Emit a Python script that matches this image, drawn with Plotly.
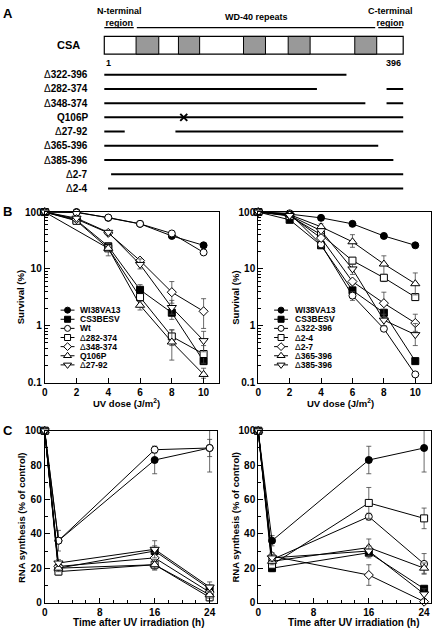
import plotly.graph_objects as go

W, H = 432, 635
FONT = "Liberation Sans"

# ---------------- Panel A data ----------------
csa_length = 396
wd40_repeats = [(43, 73), (99, 127), (185, 214), (244, 273), (332, 361)]
region_names = ["N-terminal<br>region", "WD-40 repeats", "C-terminal<br>region"]
region_spans = [(1, 40), (44, 359), (363, 395)]
construct_names = ["Δ322-396", "Δ282-374", "Δ348-374", "Q106P", "Δ27-92",
                   "Δ365-396", "Δ385-396", "Δ2-7", "Δ2-4"]
construct_segments = [
    [(1, 321)],
    [(1, 282), (374, 396)],
    [(1, 346), (374, 396)],
    [(1, 396)],
    [(1, 28), (95, 396)],
    [(1, 363)],
    [(1, 383)],
    [(10, 396)],
    [(6, 396)],
]
mutation_construct = "Q106P"
mutation_residue = 106

# ---------------- Panel B data (survival %) ----------------
uv_dose = [0, 2, 4, 6, 8, 10]
surv_left_names = ["WI38VA13", "CS3BESV", "Wt", "Δ282-374", "Δ348-374", "Q106P", "Δ27-92"]
surv_left_values = [
    [100, 100, 79, 62, 38, 26],
    [100, 72, 25, 4.3, 1.7, 0.24],
    [100, 98, 80, 62, 42, 19.5],
    [100, 70, 23, 3.2, 0.65, 0.32],
    [100, 75, 43, 14, 3.9, 1.8],
    [100, None, 23, 2.3, 0.52, 0.14],
    [100, 78, 44, 12, 2.1, 0.55],
]
surv_left_err = [  # (low, high) of error bars
    [None, None, None, None, None, None],
    [None, None, None, (3.5, 5.3), (1.3, 2.1), None],
    [None, None, None, None, None, None],
    [None, None, (17, 28), None, (0.45, 0.85), (0.22, 0.45)],
    [None, None, None, None, (2.5, 6.0), (0.9, 3.0)],
    [None, None, None, (1.9, 2.7), (0.25, 0.85), (0.12, 0.18)],
    [None, None, None, (10, 15), (1.6, 2.8), (0.35, 0.8)],
]
surv_right_names = ["WI38VA13", "CS3BESV", "Δ322-396", "Δ2-4", "Δ2-7", "Δ365-396", "Δ385-396"]
surv_right_values = [
    [100, 92, 79, 62, 38, 26],
    [100, 73, 26, 4.2, 1.7, 0.24],
    [100, 95, 27, 3.4, 0.89, 0.14],
    [100, 85, 40, 14, 7.0, 3.2],
    [100, 88, 35, 6.0, 2.5, 1.12],
    [100, 90, 55, 30, 12.2, 5.5],
    [100, 87, 47, 10, 1.26, 0.7],
]
surv_right_err = [
    [None, None, None, None, None, None],
    [None, None, None, (3.5, 5.3), None, None],
    [None, None, None, (2.8, 4.0), (0.8, 1.0), None],
    [None, None, None, (12.5, 15.5), (6.0, 8.0), (2.8, 3.6)],
    [None, None, None, None, (1.4, 3.9), (0.8, 1.6)],
    [None, None, (47, 62), (24, 40), (8, 17), (3.5, 8.5)],
    [None, None, None, (8, 12), (1.0, 1.6), (0.45, 1.1)],
]

# ---------------- Panel C data (RNA synthesis %) ----------------
hours = [0, 2, 16, 24]
rna_left_names = surv_left_names
rna_left_values = [
    [100, 36, 83, 90],
    [100, 20, 30, 8],
    [100, 36, 89, 90],
    [100, 18, 22, 3],
    [100, 21, 26, 6],
    [100, 20, 22, 4.5],
    [100, 23, 31, 9],
]
rna_left_err = [
    [0, 6, 8, 14],
    [0, 2, 3, 2],
    [0, 0, 2, 5],
    [0, 2, 3, 2],
    [0, 2, 3, 2],
    [0, 2, 3, 2],
    [0, 2, 5, 3],
]
rna_right_names = surv_right_names
rna_right_values = [
    [100, 36, 83, 90],
    [100, 20, 29, 8],
    [100, 25, 50, 22.5],
    [100, 22, 58, 49],
    [100, 27, 16, 0.5],
    [100, 24, 32, 20],
    [100, 26, 30, 5],
]
rna_right_err = [
    [0, 3, 8, 14],
    [0, 2, 3, 1],
    [0, 2, 2, 6],
    [0, 2, 9, 6],
    [0, 2, 6, 1],
    [0, 2, 5, 3],
    [0, 2, 3, 3],
]

# marker style per series (symbol, filled)
marker_style = {
    "WI38VA13": ("circle", True), "CS3BESV": ("square", True),
    "Wt": ("circle", False), "Δ322-396": ("circle", False),
    "Δ282-374": ("square", False), "Δ2-4": ("square", False),
    "Δ348-374": ("diamond", False), "Δ2-7": ("diamond", False),
    "Q106P": ("triangle-up", False), "Δ365-396": ("triangle-up", False),
    "Δ27-92": ("triangle-down", False), "Δ385-396": ("triangle-down", False),
}

# ---------------- layout helpers ----------------
def dx(a, b):
    return [a / W, b / W]

def dy(top, bottom):
    return [1 - bottom / H, 1 - top / H]

def label_html(name):
    if name.startswith("Δ"):
        return "Δ<b>" + name[1:] + "</b>"
    return "<b>" + name + "</b>"

fig = go.Figure()
annotations = []
shapes = []

# ---------------- Panel A ----------------
px_per_res = 301 / 395.0
res_left = 1 - 102 / px_per_res
res_right = 1 + (W - 102) / px_per_res
row_step = 14.5
def row_of(py):
    return (py - 70) / row_step

box_top, box_bot = row_of(31), row_of(49)
shapes.append(dict(type="rect", xref="x", yref="y", x0=1, x1=csa_length,
                   y0=box_top, y1=box_bot, line=dict(color="black", width=1.2),
                   fillcolor="white", layer="below"))
for a, b in wd40_repeats:
    shapes.append(dict(type="rect", xref="x", yref="y", x0=a, x1=b, y0=box_top, y1=box_bot,
                       line=dict(color="black", width=1), fillcolor="#999999"))
for (a, b), name in zip(region_spans, region_names):
    shapes.append(dict(type="line", xref="x", yref="y", x0=a, x1=b,
                       y0=row_of(22), y1=row_of(22), line=dict(color="black", width=1.2)))
    annotations.append(dict(xref="x", yref="y", x=(a + b) / 2, y=row_of(11.5),
                            text="<b>" + name + "</b>", showarrow=False,
                            font=dict(family=FONT, size=9, color="black"),
                            xanchor="center", yanchor="middle"))
annotations.append(dict(xref="paper", yref="y", x=80 / W, y=(box_top + box_bot) / 2,
                        text="<b>CSA</b>", showarrow=False, xanchor="right", yanchor="middle",
                        font=dict(family=FONT, size=11, color="black")))
annotations.append(dict(xref="x", yref="y", x=1, y=row_of(58), text="<b>1</b>",
                        showarrow=False, xanchor="left", yanchor="middle",
                        font=dict(family=FONT, size=9, color="black")))
annotations.append(dict(xref="x", yref="y", x=csa_length, y=row_of(58),
                        text="<b>%d</b>" % csa_length, showarrow=False,
                        xanchor="right", yanchor="middle",
                        font=dict(family=FONT, size=9, color="black")))

for i, (name, segs) in enumerate(zip(construct_names, construct_segments)):
    xs, ys = [], []
    for a, b in segs:
        xs += [a, b, None]
        ys += [i, i, None]
    fig.add_trace(go.Scatter(x=xs, y=ys, mode="lines", xaxis="x", yaxis="y",
                             line=dict(color="black", width=2), hoverinfo="skip"))
    annotations.append(dict(xref="paper", yref="y", x=88 / W, y=i, text=label_html(name),
                            showarrow=False, xanchor="right", yanchor="middle",
                            font=dict(family=FONT, size=10, color="black")))
    if name == mutation_construct:
        fig.add_trace(go.Scatter(x=[mutation_residue], y=[i], mode="markers",
                                 xaxis="x", yaxis="y", hoverinfo="skip",
                                 marker=dict(symbol="x-thin", size=7,
                                             line=dict(color="black", width=2))))

# ---------------- data series helper ----------------
def add_series(xax, yax, xvals, names, values, errs, log=False):
    for name, vals, err in zip(names, values, errs):
        sym, filled = marker_style[name]
        size = 8 if sym.startswith("triangle") else 7
        if log:
            plus = [0 if (e is None or v is None) else e[1] - v for v, e in zip(vals, err)]
            minus = [0 if (e is None or v is None) else v - e[0] for v, e in zip(vals, err)]
        else:
            plus = err
            minus = err
        xs = [x for x, v in zip(xvals, vals) if v is not None]
        ys = [v for v in vals if v is not None]
        pl = [p for p, v in zip(plus, vals) if v is not None]
        mi = [m for m, v in zip(minus, vals) if v is not None]
        fig.add_trace(go.Scatter(
            x=xs, y=ys, mode="lines+markers", xaxis=xax, yaxis=yax, cliponaxis=False,
            line=dict(color="black", width=1),
            marker=dict(symbol=sym, size=size, color="black" if filled else "white",
                        line=dict(color="black", width=1)),
            error_y=dict(type="data", symmetric=False, array=pl, arrayminus=mi,
                         color="#444444", thickness=0.8, width=2.5),
            hoverinfo="skip"))

add_series("x2", "y2", uv_dose, surv_left_names, surv_left_values, surv_left_err, log=True)
add_series("x3", "y3", uv_dose, surv_right_names, surv_right_values, surv_right_err, log=True)
add_series("x4", "y4", hours, rna_left_names, rna_left_values, rna_left_err)
add_series("x5", "y5", hours, rna_right_names, rna_right_values, rna_right_err)

# ---------------- manual legends (panel B) ----------------
def add_legend(names, x0, xc, x1, xt, ytop, step):
    for i, name in enumerate(names):
        sym, filled = marker_style[name]
        yy = ytop + i * step
        fig.add_trace(go.Scatter(x=[x0, x1], y=[yy, yy], mode="lines", xaxis="x6", yaxis="y6",
                                 line=dict(color="black", width=1), hoverinfo="skip"))
        fig.add_trace(go.Scatter(x=[xc], y=[yy], mode="markers", xaxis="x6", yaxis="y6",
                                 marker=dict(symbol=sym, size=6 if not sym.startswith("tri") else 7,
                                             color="black" if filled else "white",
                                             line=dict(color="black", width=1)),
                                 hoverinfo="skip"))
        annotations.append(dict(xref="paper", yref="paper", x=xt / W, y=1 - yy / H,
                                text=label_html(name), showarrow=False,
                                xanchor="left", yanchor="middle",
                                font=dict(family=FONT, size=8.5, color="black")))

add_legend(surv_left_names, 58, 65, 72, 76, 310, 9.3)
add_legend(surv_right_names, 273, 280, 287, 292, 310, 9.3)

# ---------------- axes ----------------
tickfont = dict(family=FONT, size=10, color="black", weight="bold")
base = dict(showline=True, linecolor="black", linewidth=1, mirror=True, ticks="inside",
            ticklen=5, tickcolor="black", tickwidth=1, showgrid=False, zeroline=False,
            tickfont=tickfont)

log_minor = [m * 10 ** d for d in (-1, 0, 1) for m in range(2, 10)]

layout = dict(
    width=W, height=H, margin=dict(l=0, r=0, t=0, b=0),
    paper_bgcolor="white", plot_bgcolor="rgba(0,0,0,0)", showlegend=False,
    xaxis=dict(domain=[0, 1], range=[res_left, res_right], visible=False, anchor="y"),
    yaxis=dict(domain=dy(0, 200), range=[row_of(200), row_of(0)], visible=False, anchor="x"),
    xaxis2=dict(base, domain=dx(42, 218), range=[0, 11], anchor="y2",
                tickvals=[0, 2, 4, 6, 8, 10]),
    yaxis2=dict(base, domain=dy(210, 384), type="log", range=[-1, 2], anchor="x2",
                tickvals=[0.1, 1, 10, 100], ticktext=["0.1", "1", "10", "100"],
                minor=dict(tickvals=log_minor, ticks="inside", ticklen=3, tickcolor="black")),
    xaxis3=dict(base, domain=dx(257, 431), range=[0, 11], anchor="y3",
                tickvals=[0, 2, 4, 6, 8, 10]),
    yaxis3=dict(base, domain=dy(210, 384), type="log", range=[-1, 2], anchor="x3",
                tickvals=[0.1, 1, 10, 100], ticktext=["0.1", "1", "10", "100"],
                minor=dict(tickvals=log_minor, ticks="inside", ticklen=3, tickcolor="black")),
    xaxis4=dict(base, domain=dx(42, 215), range=[0, 25], anchor="y4",
                tickvals=[0, 8, 16, 24],
                minor=dict(dtick=2, ticks="inside", ticklen=3, tickcolor="black")),
    yaxis4=dict(base, domain=dy(433, 608), range=[0, 100], anchor="x4",
                tickvals=[0, 20, 40, 60, 80, 100],
                minor=dict(dtick=10, ticks="inside", ticklen=3, tickcolor="black")),
    xaxis5=dict(base, domain=dx(257, 431), range=[0, 25], anchor="y5",
                tickvals=[0, 8, 16, 24],
                minor=dict(dtick=2, ticks="inside", ticklen=3, tickcolor="black")),
    yaxis5=dict(base, domain=dy(433, 608), range=[0, 100], anchor="x5",
                tickvals=[0, 20, 40, 60, 80, 100],
                minor=dict(dtick=10, ticks="inside", ticklen=3, tickcolor="black")),
    xaxis6=dict(domain=[0, 1], range=[0, W], visible=False, anchor="y6"),
    yaxis6=dict(domain=[0, 1], range=[H, 0], visible=False, anchor="x6"),
)

def title_ann(text, x, y, size, angle=0):
    annotations.append(dict(xref="paper", yref="paper", x=x / W, y=1 - y / H,
                            text="<b>" + text + "</b>", showarrow=False, textangle=angle,
                            xanchor="center", yanchor="middle",
                            font=dict(family=FONT, size=size, color="black")))

title_ann("UV dose (J/m<sup>2</sup>)", 124, 405, 9.5)
title_ann("UV dose (J/m<sup>2</sup>)", 340, 405, 9.5)
title_ann("Survival (%)", 18, 297, 9.5, -90)
title_ann("Survival (%)", 234, 297, 9.5, -90)
title_ann("Time after UV irradiation (h)", 137, 628, 10)
title_ann("Time after UV irradiation (h)", 353, 628, 10)
title_ann("RNA synthesis (% of control)", 18, 521, 9.5, -90)
title_ann("RNA synthesis (% of control)", 234, 521, 9.5, -90)
title_ann("A", 5, 8, 13)
title_ann("B", 5, 209, 13)
title_ann("C", 5, 433, 13)

layout["annotations"] = annotations
layout["shapes"] = shapes
fig.update_layout(**layout)
fig.write_html("out.html", config={"displayModeBar": False},
               post_script="document.body.style.margin='0';"
                           "document.body.style.overflow='hidden';")
